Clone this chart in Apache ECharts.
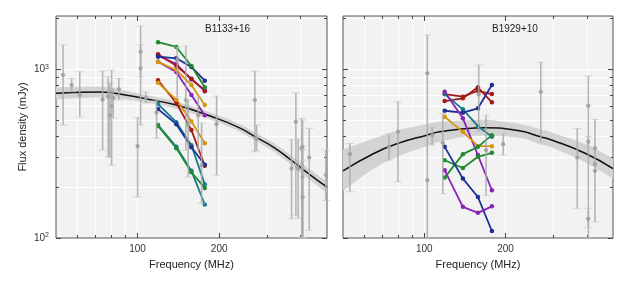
<!DOCTYPE html>
<html><head><meta charset="utf-8">
<script src="https://cdn.jsdelivr.net/npm/echarts@6/dist/echarts.min.js"></script>
<style>html,body{margin:0;padding:0;background:#fff}#c{width:630px;height:289px}</style>
</head><body><div id="c"></div>
<script>
// ---------- axis ticks ----------
const xMajorTicks = [100, 200];
const xMinorTicks = [60, 70, 80, 90, 300, 400];
const xGridLines = [60, 70, 80, 90, 100, 200, 300, 400];
const xTickLabels = [100, 200];
const yMajorTicks = [100, 1000];
const yMinorTicks = [200, 300, 400, 500, 600, 700, 800, 900, 2000];
const yGridLines = [200, 300, 400, 500, 600, 700, 800, 900, 1000, 2000];
const yTickLabels = [100, 1000];
const panelNames = ['B1133+16', 'B1929+10'];

// ---------- B1133+16 ----------
const b1133FitFreq = [50, 61, 73, 79, 90, 105, 139, 196, 239, 275, 317, 365, 420, 500];
const b1133Fit     = [720, 730, 733, 728, 704, 673, 614, 512, 448, 394, 346, 293, 246, 200];
const b1133FitHi   = [781, 789, 788, 780, 748, 710, 644, 537, 472, 416, 367, 312, 264, 217];
const b1133FitLo   = [664, 675, 682, 679, 662, 638, 586, 488, 425, 373, 326, 275, 229, 184];

const b1133GreyFreq = [53.1, 57.1, 61.2, 74.3, 77.9, 79.0, 80.2, 81.3, 85.3, 100, 102.6, 102.6, 107.3, 117.5, 140, 150.7, 153.7, 167.4, 172.3, 195.7, 270.9, 274.9, 370, 383.8, 391.4, 402.9, 406.3, 406.3, 406.3, 429.9, 495];
const b1133GreyFlux = [925, 807, 704, 663, 688, 535, 605, 673, 761, 350, 1272, 1014, 678, 553, 1136, 657, 467, 535, 270, 473, 657, 389, 258, 488, 258, 340, 347, 230, 175, 300, 236];
const b1133GreyHi   = [1394, 884, 968, 977, 904, 829, 990, 774, 884, 519, 1808, 1394, 733, 657, 1357, 1375, 657, 685, 480, 694, 977, 467, 384, 726, 386, 512, 500, 332, 289, 446, 332];
const b1133GreyLo   = [467, 736, 523, 332, 303, 301, 270, 514, 657, 175, 904, 467, 631, 391, 685, 332, 230, 332, 161, 236, 324, 329, 130, 136, 131, 101, 100, 100, 100, 111, 167];

const b1133LineFreqs = [119, 139, 158, 177];
const b1133LineColors = ['#8a22b5', '#8a22b5', '#a31a1a', '#1c2f93', '#1f8a2e', '#d5960f', '#a31a1a', '#d5960f', '#157c8c', '#1c2f93', '#157c8c', '#1f8a2e'];
const b1133Lines = [
  [1205, 1075, 870, 754],
  [1110, 964, 704, 535],
  [1228, 1050, 880, 742],
  [1188, 1162, 1032, 856],
  [1447, 1357, 1046, 782],
  [1105, 990, 807, 614],
  [860, 631, 436, 268],
  [833, 660, 490, 364],
  [622, 486, 355, 208],
  [581, 473, 345, 272],
  [467, 347, 250, 158],
  [461, 341, 245, 198]
];

// ---------- B1929+10 ----------
const b1929FitFreq = [50, 65, 80, 102, 114, 140, 169, 225, 269, 298, 396, 500];
const b1929Fit     = [250, 317, 364, 407, 426, 444, 450, 432, 398, 380, 317, 258];
const b1929FitHi   = [335, 389, 435, 473, 489, 497, 502, 475, 441, 421, 359, 296];
const b1929FitLo   = [190, 258, 305, 350, 371, 398, 403, 393, 359, 343, 280, 225];

const b1929GreyFreq = [53.0, 74.0, 79.9, 102.6, 102.6, 107, 117.1, 159.1, 169.4, 196.1, 270.2, 368.7, 405, 405, 405, 428.7, 428.7, 428.7];
const b1929GreyFlux = [314, 347, 426, 946, 220, 407, 367, 711, 332, 360, 736, 300, 608, 372, 130, 340, 274, 250];
const b1929GreyHi   = [364, 413, 642, 1599, 220, 456, 548, 1061, 535, 417, 1098, 446, 912, 400, 150, 505, 274, 250];
const b1929GreyLo   = [188, 289, 215, 100, 220, 355, 183, 426, 179, 310, 372, 150, 100, 345, 115, 124.5, 274, 250];

const b1929LineFreqs = [119, 139, 158, 178];
const b1929LineColors = ['#a31a1a', '#a31a1a', '#157c8c', '#1c2f93', '#8a22b5', '#d5960f', '#1f8a2e', '#1f8a2e', '#1c2f93', '#8a22b5'];
const b1929Lines = [
  [648, 673, 782, 637],
  [713, 688, 746, 713],
  [713, 579, 460, 398],
  [568, 553, 587, 807],
  [736, 512, 310, 192],
  [523, 426, 350, 350],
  [289, 260, 303, 320],
  [228, 314, 347, 407],
  [347, 225, 175, 110],
  [252, 153, 141, 154]
];

// ---------- build ----------
const FONT = '"Liberation Sans", Arial, sans-serif';
const X_MIN = 50, X_MAX = 500, Y_MIN = 100, Y_MAX = 2070;
const TICK_COLOR = '#444';
const pair = (xs, ys) => xs.map((x, i) => [x, ys[i]]);

function makeXAxes(g) {
  const base = { type: 'log', logBase: 10, gridIndex: g, min: X_MIN, max: X_MAX,
    axisLine: { show: false, onZero: false }, splitLine: { show: false },
    axisLabel: { show: false }, axisTick: { show: false } };
  const tick = (vals, len) => ({ show: true, inside: true, length: len, customValues: vals, lineStyle: { color: TICK_COLOR, width: 1 } });
  return [
    Object.assign({}, base, { position: 'bottom',
      name: 'Frequency (MHz)', nameLocation: 'middle', nameGap: 21,
      nameTextStyle: { fontSize: 11, color: '#222', fontFamily: FONT },
      axisLabel: { show: true, customValues: xTickLabels, fontSize: 10, color: '#333', margin: 6, fontFamily: FONT,
        formatter: v => String(Math.round(v)) },
      axisTick: tick(xMajorTicks, 5) }),
    Object.assign({}, base, { position: 'bottom', axisTick: tick(xMinorTicks, 3) }),
    Object.assign({}, base, { position: 'top', axisTick: tick(xMajorTicks, 5) }),
    Object.assign({}, base, { position: 'top', axisTick: tick(xMinorTicks, 3) }),
    Object.assign({}, base, { position: 'bottom', splitLine: { show: true, lineStyle: { color: '#ffffff', width: 1 } },
      axisTick: { show: false, customValues: xGridLines } })
  ];
}
function makeYAxes(g, withLabels) {
  const base = { type: 'log', logBase: 10, gridIndex: g, min: Y_MIN, max: Y_MAX,
    axisLine: { show: false, onZero: false }, splitLine: { show: false },
    axisLabel: { show: false }, axisTick: { show: false } };
  const tick = (vals, len) => ({ show: true, inside: true, length: len, customValues: vals, lineStyle: { color: TICK_COLOR, width: 1 } });
  const first = Object.assign({}, base, { position: 'left', axisTick: tick(yMajorTicks, 5) });
  if (withLabels) {
    first.name = 'Flux density (mJy)';
    first.nameLocation = 'middle';
    first.nameGap = 28;
    first.nameRotate = 90;
    first.nameTextStyle = { fontSize: 11, color: '#222', fontFamily: FONT };
    first.axisLabel = { show: true, customValues: yTickLabels, fontSize: 10, color: '#333', margin: 7, fontFamily: FONT,
      formatter: v => '10{s|' + Math.round(Math.log10(v)) + '}',
      rich: { s: { fontSize: 7, verticalAlign: 'top', color: '#333', fontFamily: FONT, padding: [0, 0, 5, 0] } } };
  }
  return [
    first,
    Object.assign({}, base, { position: 'left', axisTick: tick(yMinorTicks, 3) }),
    Object.assign({}, base, { position: 'right', axisTick: tick(yMajorTicks, 5) }),
    Object.assign({}, base, { position: 'right', axisTick: tick(yMinorTicks, 3) }),
    Object.assign({}, base, { position: 'left', splitLine: { show: true, lineStyle: { color: '#ffffff', width: 1 } },
      axisTick: { show: false, customValues: yGridLines } })
  ];
}

function errorBarRender(params, api) {
  const x = api.value(0);
  const pc = api.coord([x, api.value(1)]);
  const pl = api.coord([x, api.value(2)]);
  const ph = api.coord([x, api.value(3)]);
  const children = [];
  if (Math.abs(pl[1] - ph[1]) > 0.5) {
    children.push({ type: 'line', shape: { x1: ph[0], y1: ph[1], x2: pl[0], y2: pl[1] },
      style: { stroke: 'rgba(170,170,170,0.85)', lineWidth: 1.6 } });
    children.push({ type: 'line', shape: { x1: ph[0] - 4, y1: ph[1], x2: ph[0] + 4, y2: ph[1] },
      style: { stroke: 'rgba(195,195,195,0.6)', lineWidth: 1 } });
    children.push({ type: 'line', shape: { x1: pl[0] - 4, y1: pl[1], x2: pl[0] + 4, y2: pl[1] },
      style: { stroke: 'rgba(195,195,195,0.6)', lineWidth: 1 } });
  }
  children.push({ type: 'circle', shape: { cx: pc[0], cy: pc[1], r: 2.1 }, style: { fill: 'rgba(160,160,160,0.95)' } });
  return { type: 'group', children };
}

// Catmull-Rom smoothing of screen points (rendering only)
function smoothPts(pts) {
  const out = [];
  for (let i = 0; i < pts.length - 1; i++) {
    const p0 = pts[Math.max(0, i - 1)], p1 = pts[i], p2 = pts[i + 1], p3 = pts[Math.min(pts.length - 1, i + 2)];
    for (let t = 0; t < 1; t += 0.1) {
      const t2 = t * t, t3 = t2 * t;
      out.push([0, 1].map(d => 0.5 * ((2 * p1[d]) + (-p0[d] + p2[d]) * t + (2 * p0[d] - 5 * p1[d] + 4 * p2[d] - p3[d]) * t2 + (-p0[d] + 3 * p1[d] - 3 * p2[d] + p3[d]) * t3)));
    }
  }
  out.push(pts[pts.length - 1]);
  return out;
}
function bandRender(params, api) {
  if (params.dataIndexInside !== 0) return null;
  const n = params.dataInsideLength;
  const up = [], lo = [];
  for (let i = 0; i < n; i++) {
    const f = api.value(0, i);
    up.push(api.coord([f, api.value(1, i)]));
    lo.push(api.coord([f, api.value(2, i)]));
  }
  const pts = smoothPts(up).concat(smoothPts(lo).reverse());
  return { type: 'polygon', shape: { points: pts }, style: { fill: '#d3d3d3' } };
}

function panelSeries(p, fitF, fit, fitHi, fitLo, lineFreqs, lines, colors, gF, gV, gLo, gHi) {
  const xi = p * 5, yi = p * 5;
  const s = [];
  s.push({ type: 'custom', xAxisIndex: xi, yAxisIndex: yi, silent: true, renderItem: bandRender,
    encode: { x: 0, y: [1, 2] }, data: fitF.map((f, i) => [f, fitHi[i], fitLo[i]]), z: 2 });
  s.push({ type: 'line', xAxisIndex: xi, yAxisIndex: yi, silent: true, smooth: true, symbol: 'none',
    lineStyle: { color: '#111', width: 1.5 }, data: pair(fitF, fit), z: 3 });
  lines.forEach((vals, k) => {
    s.push({ type: 'line', xAxisIndex: xi, yAxisIndex: yi, silent: true, symbol: 'circle', symbolSize: 4.5,
      lineStyle: { color: colors[k], width: 1.8 }, itemStyle: { color: colors[k] },
      data: pair(lineFreqs, vals), z: 4 });
  });
  s.push({ type: 'custom', xAxisIndex: xi, yAxisIndex: yi, silent: true, renderItem: errorBarRender,
    encode: { x: 0, y: 1 }, data: gF.map((f, i) => [f, gV[i], gLo[i], gHi[i]]), z: 5 });
  return s;
}

const option = {
  animation: false,
  backgroundColor: '#ffffff',
  textStyle: { fontFamily: FONT },
  grid: [
    { left: 56, top: 16, width: 271, height: 222, show: true, backgroundColor: '#f2f2f2', borderColor: '#555', borderWidth: 1 },
    { left: 343, top: 16, width: 270, height: 222, show: true, backgroundColor: '#f2f2f2', borderColor: '#555', borderWidth: 1 }
  ],
  xAxis: makeXAxes(0).concat(makeXAxes(1)),
  yAxis: makeYAxes(0, true).concat(makeYAxes(1, false)),
  graphic: [
    { type: 'text', left: 205, top: 24, z: 10, style: { text: panelNames[0], font: '10px ' + FONT, fill: '#222' } },
    { type: 'text', left: 492, top: 24, z: 10, style: { text: panelNames[1], font: '10px ' + FONT, fill: '#222' } }
  ],
  series: panelSeries(0, b1133FitFreq, b1133Fit, b1133FitHi, b1133FitLo, b1133LineFreqs, b1133Lines, b1133LineColors,
                      b1133GreyFreq, b1133GreyFlux, b1133GreyLo, b1133GreyHi)
    .concat(panelSeries(1, b1929FitFreq, b1929Fit, b1929FitHi, b1929FitLo, b1929LineFreqs, b1929Lines, b1929LineColors,
                      b1929GreyFreq, b1929GreyFlux, b1929GreyLo, b1929GreyHi))
};
const chart = echarts.init(document.getElementById('c'), null, { renderer: 'canvas' });
chart.setOption(option);
</script></body></html>
